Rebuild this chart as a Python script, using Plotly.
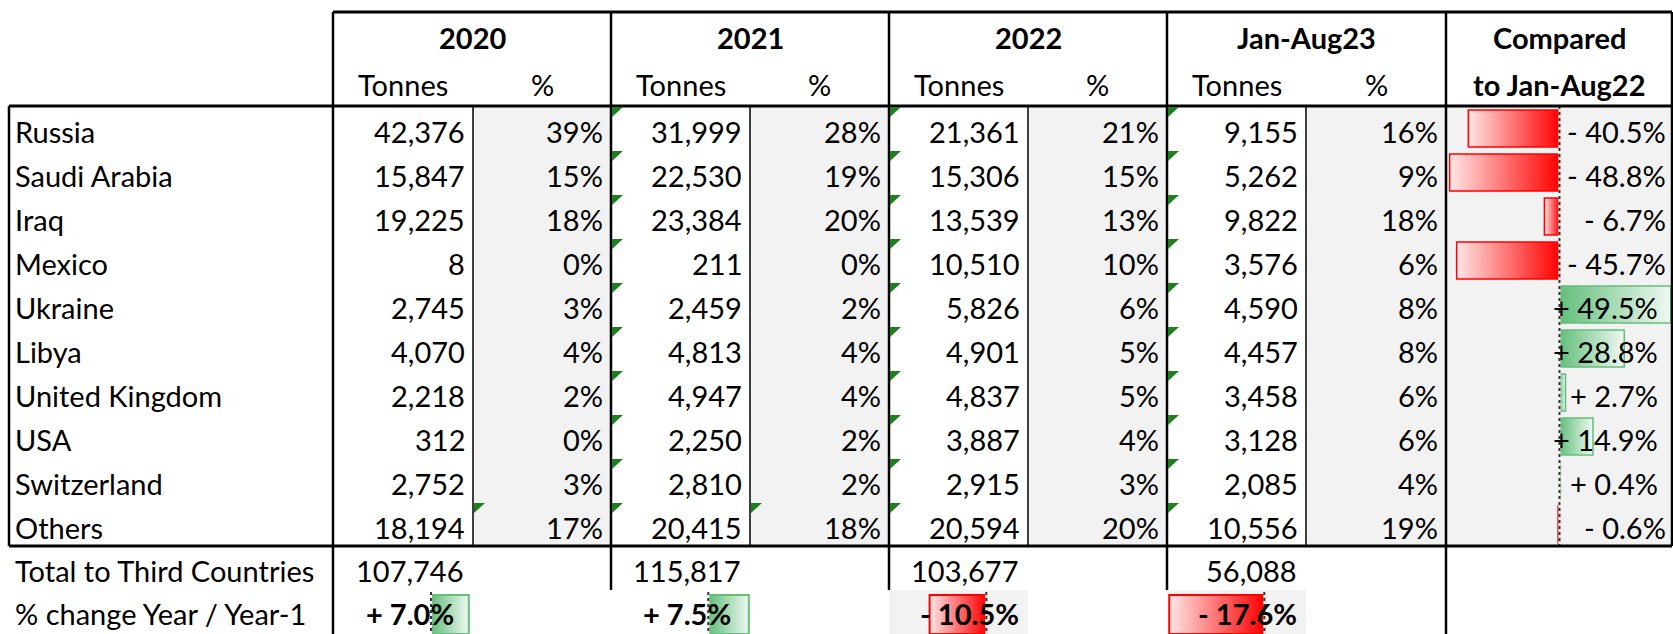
import plotly.graph_objects as go

# ---------------- data ----------------
countries = ["Russia", "Saudi Arabia", "Iraq", "Mexico", "Ukraine", "Libya",
             "United Kingdom", "USA", "Switzerland", "Others"]
periods = ["2020", "2021", "2022", "Jan-Aug23"]
tonnes_2020 = [42376, 15847, 19225, 8, 2745, 4070, 2218, 312, 2752, 18194]
share_2020 = [39, 15, 18, 0, 3, 4, 2, 0, 3, 17]
tonnes_2021 = [31999, 22530, 23384, 211, 2459, 4813, 4947, 2250, 2810, 20415]
share_2021 = [28, 19, 20, 0, 2, 4, 4, 2, 2, 18]
tonnes_2022 = [21361, 15306, 13539, 10510, 5826, 4901, 4837, 3887, 2915, 20594]
share_2022 = [21, 15, 13, 10, 6, 5, 5, 4, 3, 20]
tonnes_2023 = [9155, 5262, 9822, 3576, 4590, 4457, 3458, 3128, 2085, 10556]
share_2023 = [16, 9, 18, 6, 8, 8, 6, 6, 4, 19]
change_vs_jan_aug22 = [-40.5, -48.8, -6.7, -45.7, 49.5, 28.8, 2.7, 14.9, 0.4, -0.6]
totals = [107746, 115817, 103677, 56088]
yoy_change = [7.0, 7.5, -10.5, -17.6]

tonnes = [tonnes_2020, tonnes_2021, tonnes_2022, tonnes_2023]
shares = [share_2020, share_2021, share_2022, share_2023]

# ---------------- layout geometry (pixels) ----------------
W, H = 1673, 634
COL = [9, 333, 473, 611, 750, 889, 1028, 1167, 1306, 1446, 1672]
Y_TOP, Y_HEAD, ROW_H = 12, 106, 44
N = len(countries)
Y_BODY_END = Y_HEAD + ROW_H * N        # 546
Y_TOTAL_END = Y_BODY_END + ROW_H       # 590
FONT = "Lato"
FS = 29
GRAY = "#F2F2F2"
RED = "#FF0000"
GREEN = "#63BE7B"
TRI = "#1E7F1E"

# scale settings for data bars
CMP_AXIS_FRAC = 0.502
CMP_PX_PER_PCT = 2.25
YOY_AXIS_FRAC = 0.70
YOY_PX_PER_PCT = 5.4

fig = go.Figure()
shapes = []
annotations = []


def txt(x, y, s, anchor="right", bold=False):
    annotations.append(dict(
        x=x, y=y, xref="x", yref="y", text=f"<b>{s}</b>" if bold else s,
        showarrow=False, xanchor=anchor, yanchor="middle",
        font=dict(family=FONT, size=FS, color="black")))


def rect(x0, y0, x1, y1, color, layer="below"):
    shapes.append(dict(type="rect", xref="x", yref="y", x0=x0, y0=y0, x1=x1, y1=y1,
                       fillcolor=color, line=dict(width=0), layer=layer))


def line(x0, y0, x1, y1, w=1.5, color="black", dash="solid", xref="x", yref="y"):
    shapes.append(dict(type="line", xref=xref, yref=yref, x0=x0, y0=y0, x1=x1, y1=y1,
                       line=dict(color=color, width=w, dash=dash), layer="above"))


def row_top(i):
    return Y_HEAD + ROW_H * i


# ---------------- backgrounds ----------------
for k in range(4):
    rect(COL[2 + 2 * k], Y_HEAD, COL[3 + 2 * k], Y_BODY_END, GRAY)
rect(COL[9], Y_HEAD, COL[10], Y_BODY_END, GRAY)
rect(COL[5], Y_TOTAL_END, COL[6], H, GRAY)
rect(COL[7], Y_TOTAL_END, COL[8], H, GRAY)

# ---------------- data bars (own axes per cell) ----------------
cw = COL[10] - COL[9]
cmp_left = -CMP_AXIS_FRAC * cw / CMP_PX_PER_PCT
cmp_right = (1 - CMP_AXIS_FRAC) * cw / CMP_PX_PER_PCT
for i, v in enumerate(change_vs_jan_aug22):
    y0, y1 = i - 0.5 + 4 / ROW_H, i + 0.5 - 3 / ROW_H
    if v < 0:
        cs = [[0, "#FFE6E6"], [1, RED]]
        lc = RED
    else:
        cs = [[0, GREEN], [1, "#EFF8F1"]]
        lc = GREEN
    fig.add_trace(go.Scatter(
        x=[0, v, v, 0, 0], y=[y0, y0, y1, y1, y0], mode="lines", fill="toself",
        line=dict(color=lc, width=1.5),
        fillgradient=dict(type="horizontal", colorscale=cs),
        xaxis="x2", yaxis="y2", hoverinfo="skip"))

yoy_axes = []
for k, v in enumerate(yoy_change):
    xa = f"x{3 + k}"
    ya = f"y{3 + k}"
    yoy_axes.append((xa, ya, COL[1 + 2 * k], COL[2 + 2 * k]))
    y0, y1 = 5 / ROW_H, 1.0
    if v < 0:
        cs = [[0, "#FFE6E6"], [1, RED]]
        lc = RED
    else:
        cs = [[0, GREEN], [1, "#EFF8F1"]]
        lc = GREEN
    fig.add_trace(go.Scatter(
        x=[0, v, v, 0, 0], y=[y0, y0, y1, y1, y0], mode="lines", fill="toself",
        line=dict(color=lc, width=2),
        fillgradient=dict(type="horizontal", colorscale=cs),
        xaxis=xa, yaxis=ya, hoverinfo="skip"))

# dashed zero axes of the data bars
line(0, -0.5, 0, N - 0.5, w=2, color="white", xref="x2", yref="y2")
line(0, -0.5, 0, N - 0.5, w=2, color="#333333", dash="dot", xref="x2", yref="y2")
for xa, ya, _, _ in yoy_axes:
    line(0, 2 / ROW_H, 0, 1, w=2, color="white", xref=xa, yref=ya)
    line(0, 2 / ROW_H, 0, 1, w=2, color="#333333", dash="dot", xref=xa, yref=ya)

# ---------------- grid lines ----------------
THICK, THIN = 3, 1.5
line(COL[1], Y_TOP, COL[10], Y_TOP, THICK)
line(COL[0], Y_HEAD, COL[10], Y_HEAD, THICK)
line(COL[0], Y_BODY_END, COL[10], Y_BODY_END, THICK)
line(COL[0], Y_HEAD, COL[0], Y_BODY_END, 2.5)
for c in (1, 3, 5, 7, 9):
    line(COL[c], Y_TOP, COL[c], Y_BODY_END, 2.5)
line(COL[10], Y_TOP, COL[10], Y_BODY_END, 2.5)
for c in (2, 4, 6, 8):
    line(COL[c], Y_HEAD, COL[c], Y_BODY_END, THIN)
line(COL[1], Y_BODY_END, COL[1], H, 2.5)
line(COL[9], Y_BODY_END, COL[9], H, 2.5)
for c in (3, 5, 7):
    line(COL[c], Y_BODY_END, COL[c], Y_TOTAL_END, 2.5)


def tri(x, y):
    shapes.append(dict(type="path", xref="x", yref="y",
                       path=f"M {x+1},{y+1} L {x+12},{y+1} L {x+1},{y+11} Z",
                       fillcolor=TRI, line=dict(width=0), layer="above"))


for i in range(N):
    for c in (3, 5, 7):
        tri(COL[c], row_top(i))
tri(COL[2], row_top(N - 1))
tri(COL[4], row_top(N - 1))

# ---------------- header text ----------------
for k, p in enumerate(periods):
    xl, xm, xr = COL[1 + 2 * k], COL[2 + 2 * k], COL[3 + 2 * k]
    txt((xl + xr) / 2, 37, p, anchor="center", bold=True)
    txt((xl + xm) / 2, 84, "Tonnes", anchor="center")
    txt((xm + xr) / 2, 84, "%", anchor="center")
txt((COL[9] + COL[10]) / 2, 37, "Compared", anchor="center", bold=True)
txt((COL[9] + COL[10]) / 2, 84, "to Jan-Aug22", anchor="center", bold=True)

# ---------------- body text ----------------
PAD = 6
for i, name in enumerate(countries):
    yc = row_top(i) + 25
    txt(COL[0] + 4, yc, name, anchor="left")
    for k in range(4):
        txt(COL[2 + 2 * k] - PAD, yc, f"{tonnes[k][i]:,}")
        txt(COL[3 + 2 * k] - PAD, yc, f"{shares[k][i]}%")
    v = change_vs_jan_aug22[i]
    s = f"{'+' if v >= 0 else '-'} {abs(v):.1f}%"
    txt(COL[10] - (12 if v >= 0 else 4), yc, s)

# ---------------- total rows ----------------
y_tot = Y_BODY_END + 24
y_chg = Y_TOTAL_END + 23
txt(COL[0] + 4, y_tot, "Total to Third Countries", anchor="left")
txt(COL[0] + 4, y_chg, "% change Year / Year-1", anchor="left")
for k in range(4):
    txt(COL[2 + 2 * k] - 7, y_tot, f"{totals[k]:,}")
    v = yoy_change[k]
    s = f"{'+' if v >= 0 else '-'} {abs(v):.1f}%"
    txt(COL[2 + 2 * k] - (17 if v >= 0 else 7), y_chg, s, bold=True)

# ---------------- axes ----------------
hidden = dict(visible=False, showgrid=False, zeroline=False, fixedrange=True)
layout_axes = {
    "xaxis": dict(hidden, range=[0, W], domain=[0, 1]),
    "yaxis": dict(hidden, range=[H, 0], domain=[0, 1]),
    "xaxis2": dict(hidden, range=[cmp_left, cmp_right], domain=[COL[9] / W, COL[10] / W], anchor="y2"),
    "yaxis2": dict(hidden, range=[N - 0.5, -0.5], domain=[1 - Y_BODY_END / H, 1 - Y_HEAD / H], anchor="x2"),
}
for xa, ya, xl, xr in yoy_axes:
    w = xr - xl
    xn = "xaxis" + xa[1:]
    yn = "yaxis" + ya[1:]
    layout_axes[xn] = dict(hidden, range=[-YOY_AXIS_FRAC * w / YOY_PX_PER_PCT,
                                          (1 - YOY_AXIS_FRAC) * w / YOY_PX_PER_PCT],
                           domain=[xl / W, xr / W], anchor=ya)
    layout_axes[yn] = dict(hidden, range=[1, 0], domain=[0, 1 - Y_TOTAL_END / H], anchor=xa)

fig.update_layout(
    width=W, height=H, autosize=False,
    margin=dict(l=0, r=0, t=0, b=0, pad=0),
    paper_bgcolor="white", plot_bgcolor="rgba(0,0,0,0)",
    showlegend=False, shapes=shapes, annotations=annotations,
    font=dict(family=FONT, size=FS, color="black"),
    **layout_axes,
)

fig.write_html("out.html", config={"displayModeBar": False},
               post_script="document.body.style.margin='0px';document.body.style.overflow='hidden';")
